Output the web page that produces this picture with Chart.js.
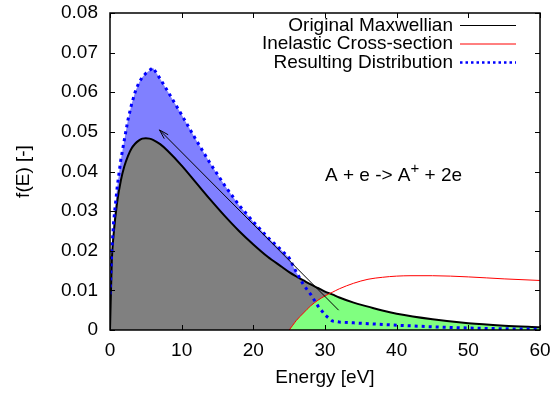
<!DOCTYPE html>
<html>
<head>
<meta charset="utf-8">
<script src="https://cdn.jsdelivr.net/npm/chart.js@4.4.1/dist/chart.umd.min.js"></script>
<style>
  html, body { margin: 0; padding: 0; background: #fff; }
  #wrap { width: 554px; height: 393px; }
</style>
</head>
<body>
<div id="wrap"><canvas id="chart-maxwell" width="554" height="393"></canvas></div>
<script>
// values
const energy = [0, 0.25, 0.5, 1, 1.5, 2, 2.5, 3, 3.5, 4, 4.5, 5, 5.5, 6, 7, 8, 10, 12, 14, 16, 18, 20, 22, 24,
  25, 26, 27, 28, 29, 30, 31, 32, 34, 36, 38, 40, 45, 50, 55, 60];
const maxwellian = [0, 0.0174, 0.0240, 0.0323, 0.0376, 0.0413, 0.0439, 0.0458, 0.0470, 0.0478, 0.0483,
  0.0484, 0.0483, 0.0480, 0.0469, 0.0453, 0.0415, 0.0372, 0.0329, 0.0288, 0.0250, 0.0216, 0.0185, 0.0159,
  0.0146, 0.0135, 0.0125, 0.0115, 0.0106, 0.0097, 0.0090, 0.0082, 0.0069, 0.0059,
  0.0049, 0.0041, 0.0027, 0.0017, 0.0011, 0.0007];
const resulting = [0.009, 0.020, 0.0272, 0.0360, 0.0428, 0.0480, 0.0530, 0.0569, 0.0600, 0.0623, 0.0638,
  0.0648, 0.0655, 0.0662, 0.0634, 0.0604, 0.0543, 0.0480, 0.0420, 0.0365, 0.0315, 0.0273, 0.0234, 0.0200,
  0.0182, 0.0146, 0.0114, 0.0090, 0.0061, 0.0038, 0.0023, 0.0020, 0.0018, 0.0016,
  0.0014, 0.0012, 0.0008, 0.0005, 0.0003, 0.0002];

const xsecEnergy = [25, 25.5, 26, 27, 28, 29, 30, 31, 32, 34, 36, 38, 40, 42, 45, 50, 55, 60];
const xsection = [0, 0.0012, 0.0024, 0.0043, 0.0061, 0.0075, 0.0086, 0.0095, 0.0104, 0.0118,
  0.0128, 0.0133, 0.0136, 0.0137, 0.0137, 0.0134, 0.0129, 0.0125];

// green area: electrons able to ionise (lower of the two curves above 25 eV)
const lossEnergy = [25, 25.5, 26, 27, 28, 29, 30, 30.7, 32, 34, 36, 38, 40, 45, 50, 55, 60];
const lossFill = [0, 0.0012, 0.0024, 0.0043, 0.0061, 0.0075, 0.0086, 0.0092, 0.0082, 0.0069,
  0.0059, 0.0049, 0.0041, 0.0027, 0.0017, 0.0011, 0.0007];

const xTicks = [0, 10, 20, 30, 40, 50, 60];
const yTicks = [0, 0.01, 0.02, 0.03, 0.04, 0.05, 0.06, 0.07, 0.08];
const seriesNames = ['Original Maxwellian', 'Inelastic Cross-section', 'Resulting Distribution'];

const FONT = '"Liberation Sans", Arial, sans-serif';
const FONT_SIZE = 19;
const GRAY = '#808080';
const BLUE_FILL = '#8080ff';
const GREEN_FILL = '#80ff80';

const pts = (xs, ys) => xs.map((x, i) => ({ x: x, y: ys[i] }));
const noPad = (s) => { s.paddingTop = 0; s.paddingBottom = 0; s.paddingLeft = 0; s.paddingRight = 0; };

// border, mirrored inward ticks, arrow, reaction label and key
const decorations = {
  id: 'decorations',
  afterDraw(chart) {
    const ctx = chart.ctx;
    const { left, right, top, bottom } = chart.chartArea;
    const xs = chart.scales.x;
    const ys = chart.scales.y;
    ctx.save();
    ctx.strokeStyle = '#000';
    ctx.lineWidth = 1;
    ctx.beginPath();
    xTicks.forEach((t) => {
      const px = Math.round(xs.getPixelForValue(t)) + 0.5;
      ctx.moveTo(px, bottom); ctx.lineTo(px, bottom - 5);
      ctx.moveTo(px, top); ctx.lineTo(px, top + 5);
    });
    yTicks.forEach((t) => {
      const py = Math.round(ys.getPixelForValue(t)) + 0.5;
      ctx.moveTo(left, py); ctx.lineTo(left + 5, py);
      ctx.moveTo(right, py); ctx.lineTo(right - 5, py);
    });
    ctx.stroke();
    ctx.lineWidth = 1.5;
    ctx.strokeRect(left, top, right - left, bottom - top);

    // arrow
    const ax0 = xs.getPixelForValue(31.9), ay0 = ys.getPixelForValue(0.005);
    const ax1 = xs.getPixelForValue(6.9), ay1 = ys.getPixelForValue(0.0505);
    const ang = Math.atan2(ay0 - ay1, ax0 - ax1);
    ctx.lineWidth = 1;
    ctx.beginPath();
    ctx.moveTo(ax0, ay0); ctx.lineTo(ax1, ay1);
    ctx.moveTo(ax1 + 10 * Math.cos(ang - 0.28), ay1 + 10 * Math.sin(ang - 0.28));
    ctx.lineTo(ax1, ay1);
    ctx.lineTo(ax1 + 10 * Math.cos(ang + 0.28), ay1 + 10 * Math.sin(ang + 0.28));
    ctx.stroke();

    // reaction label
    ctx.fillStyle = '#000';
    ctx.textBaseline = 'alphabetic';
    ctx.textAlign = 'left';
    let tx = xs.getPixelForValue(30.0);
    const ty = ys.getPixelForValue(0.0376);
    ctx.font = FONT_SIZE + 'px ' + FONT;
    ctx.fillText('A + e -> A', tx, ty);
    tx += ctx.measureText('A + e -> A').width;
    ctx.font = '15px ' + FONT;
    ctx.fillText('+', tx, ty - 8);
    tx += ctx.measureText('+').width;
    ctx.font = FONT_SIZE + 'px ' + FONT;
    ctx.fillText(' + 2e', tx, ty);

    // key
    const rowsY = [25.5, 44, 62.5];
    const styles = [
      { color: '#000', width: 1, dash: [] },
      { color: '#ff0000', width: 1, dash: [] },
      { color: '#0000ff', width: 2.5, dash: [2.5, 3] },
    ];
    ctx.font = FONT_SIZE + 'px ' + FONT;
    ctx.textAlign = 'right';
    ctx.textBaseline = 'middle';
    seriesNames.forEach((name, i) => {
      ctx.fillStyle = '#000';
      ctx.fillText(name, 453, rowsY[i]);
      ctx.strokeStyle = styles[i].color;
      ctx.lineWidth = styles[i].width;
      ctx.setLineDash(styles[i].dash);
      ctx.beginPath();
      ctx.moveTo(460, rowsY[i]);
      ctx.lineTo(516, rowsY[i]);
      ctx.stroke();
      ctx.setLineDash([]);
    });
    ctx.restore();
  },
};

Chart.defaults.font.family = FONT;
Chart.defaults.font.size = FONT_SIZE;
Chart.defaults.color = '#000';

new Chart(document.getElementById('chart-maxwell'), {
  type: 'line',
  data: {
    datasets: [
      {
        label: seriesNames[2],
        data: pts(energy, resulting),
        borderColor: '#0000ff',
        borderWidth: 3,
        borderDash: [3, 4],
        tension: 0,
        fill: { target: 2, above: BLUE_FILL, below: 'rgba(0,0,0,0)' },
      },
      {
        label: seriesNames[1],
        data: pts(xsecEnergy, xsection),
        borderColor: '#ff0000',
        borderWidth: 1,
        cubicInterpolationMode: 'monotone',
        fill: false,
      },
      {
        label: seriesNames[0],
        data: pts(energy, maxwellian),
        borderColor: '#000',
        borderWidth: 2,
        cubicInterpolationMode: 'monotone',
        fill: false,
      },
      {
        label: 'loss',
        data: pts(lossEnergy, lossFill),
        borderWidth: 0,
        borderColor: 'rgba(0,0,0,0)',
        backgroundColor: GREEN_FILL,
        cubicInterpolationMode: 'monotone',
        fill: 'origin',
      },
      {
        label: 'area',
        data: pts(energy, maxwellian),
        borderWidth: 0,
        borderColor: 'rgba(0,0,0,0)',
        backgroundColor: GRAY,
        cubicInterpolationMode: 'monotone',
        fill: 'origin',
      },
    ],
  },
  options: {
    responsive: false,
    animation: false,
    layout: { padding: { top: 13, right: 14, left: 0, bottom: 0 } },
    elements: { point: { radius: 0, hoverRadius: 0 } },
    scales: {
      x: {
        type: 'linear',
        min: 0,
        max: 60,
        afterBuildTicks: (s) => { s.ticks = xTicks.map((v) => ({ value: v })); },
        afterFit: (s) => { s.height = 63; noPad(s); },
        ticks: { padding: 9, maxRotation: 0, callback: (v) => String(v) },
        grid: { display: false, drawTicks: false },
        border: { display: false },
        title: { display: true, text: 'Energy [eV]', padding: { top: 0, bottom: 4 } },
      },
      y: {
        type: 'linear',
        min: 0,
        max: 0.08,
        afterBuildTicks: (s) => { s.ticks = yTicks.map((v) => ({ value: v })); },
        afterFit: (s) => { s.width = 110; noPad(s); },
        ticks: { padding: 12, callback: (v) => (v === 0 ? '0' : v.toFixed(2)) },
        grid: { display: false, drawTicks: false },
        border: { display: false },
        title: { display: true, text: 'f(E) [-]', padding: { top: 12, bottom: 0 } },
      },
    },
    plugins: {
      legend: { display: false },
      tooltip: { enabled: false },
      filler: { drawTime: 'beforeDatasetsDraw' },
    },
  },
  plugins: [decorations],
});
</script>
</body>
</html>
